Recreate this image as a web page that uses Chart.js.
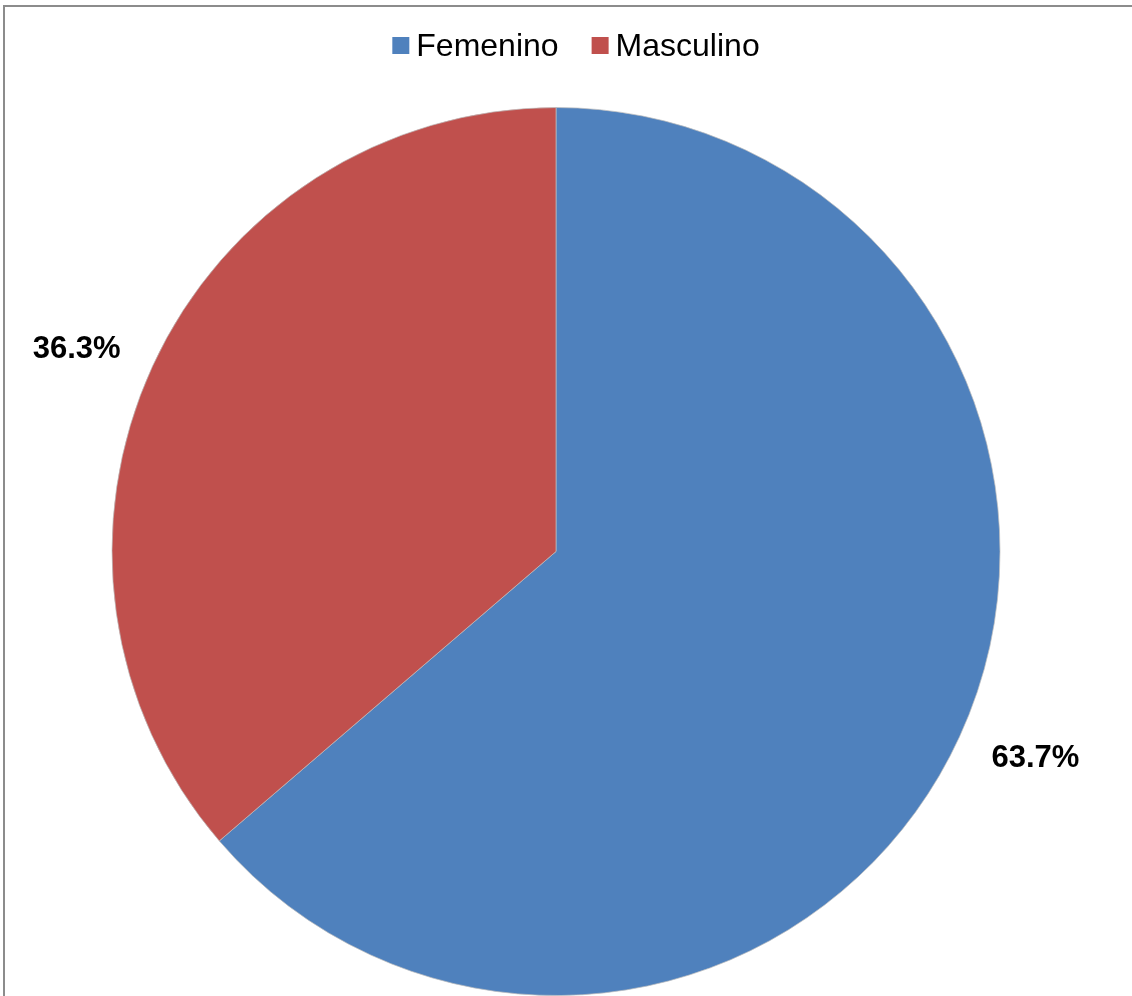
<!DOCTYPE html>
<html>
<head>
<meta charset="utf-8">
<script src="https://cdn.jsdelivr.net/npm/chart.js@4.4.1/dist/chart.umd.min.js"></script>
<style>
  body { margin: 0; background: #fff; }
  #chartcontainer { display: block; }
</style>
</head>
<body>
<canvas id="chartcontainer" width="1132" height="996"></canvas>
<script>
var categorias = ['Femenino', 'Masculino'];
var porcentajes = [63.7, 36.3];
var colores = ['#4F81BD', '#C0504D'];

var fuente = '"Liberation Sans", Arial, sans-serif';

// marco gris arriba y a la izquierda
var marco = {
    id: 'marco',
    beforeDraw: function(chart) {
        var ctx = chart.ctx;
        ctx.save();
        ctx.fillStyle = '#ffffff';
        ctx.fillRect(0, 0, chart.width, chart.height);
        ctx.fillStyle = '#8c8c8c';
        ctx.fillRect(3, 5, chart.width - 3, 2);
        ctx.fillRect(3, 5, 2, chart.height - 5);
        ctx.restore();
    }
};

// leyenda centrada encima del pastel
var leyenda = {
    id: 'leyenda',
    afterDraw: function(chart) {
        var ctx = chart.ctx;
        ctx.save();
        ctx.font = '32px ' + fuente;
        ctx.textBaseline = 'alphabetic';
        var caja = 17, hueco = 7, sep = 33;
        var total = 0;
        for (var i = 0; i < categorias.length; i++) {
            total += caja + hueco + ctx.measureText(categorias[i]).width;
        }
        total += sep * (categorias.length - 1);
        var x = 576 - total / 2;
        for (var j = 0; j < categorias.length; j++) {
            ctx.fillStyle = colores[j];
            ctx.fillRect(x, 37, caja, caja);
            ctx.fillStyle = '#000000';
            ctx.fillText(categorias[j], x + caja + hueco, 56);
            x += caja + hueco + ctx.measureText(categorias[j]).width + sep;
        }
        ctx.restore();
    }
};

// porcentajes fuera de cada porción
var etiquetas = {
    id: 'etiquetas',
    afterDatasetsDraw: function(chart) {
        var ctx = chart.ctx;
        var meta = chart.getDatasetMeta(0);
        ctx.save();
        ctx.font = 'bold 31px ' + fuente;
        ctx.fillStyle = '#000000';
        ctx.textAlign = 'center';
        ctx.textBaseline = 'alphabetic';
        meta.data.forEach(function(arc, i) {
            var p = arc.getProps(['x', 'y', 'startAngle', 'endAngle', 'outerRadius'], true);
            var a = (p.startAngle + p.endAngle) / 2 - 0.028;
            var r = p.outerRadius + 77;
            var cx = p.x + Math.cos(a) * r;
            var cy = p.y + Math.sin(a) * r;
            ctx.fillText(porcentajes[i].toFixed(1) + '%', cx, cy + 11);
        });
        ctx.restore();
    }
};

var ctx = document.getElementById('chartcontainer').getContext('2d');
var chart = new Chart(ctx, {
    type: 'pie',
    data: {
        labels: categorias,
        datasets: [{
            data: porcentajes,
            backgroundColor: colores,
            borderColor: 'rgba(190, 190, 190, 0.7)',
            borderWidth: 1,
            hoverOffset: 0
        }]
    },
    options: {
        responsive: false,
        animation: false,
        devicePixelRatio: 1,
        layout: {
            padding: { top: 107, bottom: 0, left: 0, right: 20 }
        },
        plugins: {
            legend: { display: false },
            tooltip: { enabled: false }
        }
    },
    plugins: [marco, leyenda, etiquetas]
});
</script>
</body>
</html>
